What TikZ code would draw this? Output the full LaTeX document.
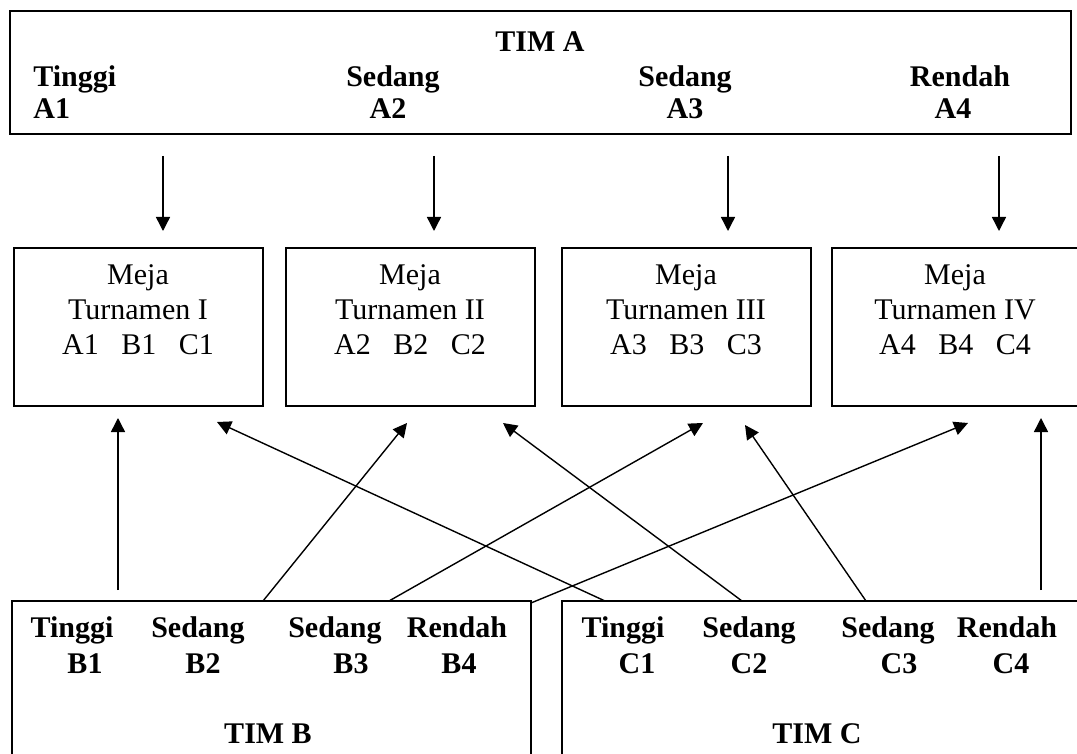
\documentclass[tikz,border=0pt]{standalone}
\usepackage{fontspec}
\setmainfont{Liberation Serif}
\usetikzlibrary{arrows.meta,fit}

\begin{document}
\begin{tikzpicture}[x=0.5pt,y=-0.5pt,
  box/.style={rectangle,draw,line width=1pt,inner sep=0pt},
  lbl/.style={font=\fontsize{15}{17}\selectfont\bfseries,inner sep=0pt,anchor=base},
  mj/.style={font=\fontsize{15}{17.5}\selectfont,align=center,inner sep=0pt,anchor=base},
  a/.style={-{Triangle[length=7pt,width=7pt]},line width=0.7pt}]

\useasboundingbox (0,0) rectangle (1077,754);
\clip (0,0) rectangle (1077,754);

% team A on top
\node[box,fit={(10,11) (1071,134)}] (timA) {};
\node[lbl] (nA) at (540,52) {TIM A};
\node[lbl,anchor=base west] (kA1) at (33,87) {Tinggi};
\node[lbl,anchor=base west] (a1) at (33,119) {A1};
\node[lbl] (kA2) at (393,87) {Sedang};
\node[lbl] (a2) at (388,119) {A2};
\node[lbl] (kA3) at (685,87) {Sedang};
\node[lbl] (a3) at (685,119) {A3};
\node[lbl] (kA4) at (960,87) {Rendah};
\node[lbl] (a4) at (953,119) {A4};

% tournament tables
\node[box,fit={(14,248) (263,406)}] (m1) {};
\node[box,fit={(286,248) (535,406)}] (m2) {};
\node[box,fit={(562,248) (811,406)}] (m3) {};
\node[box,fit={(832,248) (1110,406)}] (m4) {};
\node[mj] (t1) at (138,355) {Meja\\Turnamen I\\A1\hspace{0.75em}B1\hspace{0.75em}C1};
\node[mj] (t2) at (410,355) {Meja\\Turnamen II\\A2\hspace{0.75em}B2\hspace{0.75em}C2};
\node[mj] (t3) at (686,355) {Meja\\Turnamen III\\A3\hspace{0.75em}B3\hspace{0.75em}C3};
\node[mj] (t4) at (955,355) {Meja\\Turnamen IV\\A4\hspace{0.75em}B4\hspace{0.75em}C4};

% arrows from team A down to the tables
\coordinate (d1) at (163,156); \coordinate (d2) at (434,156);
\coordinate (d3) at (728,156); \coordinate (d4) at (999,156);
\draw[a,shorten >=8pt] (d1) -- (d1 |- m1.north);
\draw[a,shorten >=8pt] (d2) -- (d2 |- m2.north);
\draw[a,shorten >=8pt] (d3) -- (d3 |- m3.north);
\draw[a,shorten >=8pt] (d4) -- (d4 |- m4.north);

% teams B and C at the bottom
\node[box,fit={(12,601) (531,790)}] (timB) {};
\node[box,fit={(562,601) (1110,790)}] (timC) {};
\node[lbl] (kB1) at (72,637) {Tinggi};
\node[lbl] (b1) at (85,673) {B1};
\node[lbl] (kB2) at (198,637) {Sedang};
\node[lbl] (b2) at (203,673) {B2};
\node[lbl] (kB3) at (335,637) {Sedang};
\node[lbl] (b3) at (351,673) {B3};
\node[lbl] (kB4) at (457,637) {Rendah};
\node[lbl] (b4) at (459,673) {B4};
\node[lbl] (nB) at (268,743) {TIM B};
\node[lbl] (kC1) at (623,637) {Tinggi};
\node[lbl] (c1) at (637,673) {C1};
\node[lbl] (kC2) at (749,637) {Sedang};
\node[lbl] (c2) at (749,673) {C2};
\node[lbl] (kC3) at (888,637) {Sedang};
\node[lbl] (c3) at (899,673) {C3};
\node[lbl] (kC4) at (1007,637) {Rendah};
\node[lbl] (c4) at (1011,673) {C4};
\node[lbl] (nC) at (817,743) {TIM C};

% arrows from teams B and C up to the tables
\coordinate (ub1) at (118,590); \coordinate (hb1) at (118,418);
\coordinate (ub2) at (263,601); \coordinate (hb2) at (407,423);
\coordinate (ub3) at (389,601); \coordinate (hb3) at (703,423);
\coordinate (ub4) at (531,603); \coordinate (hb4) at (968,423);
\coordinate (uc1) at (605,601); \coordinate (hc1) at (217,422);
\coordinate (uc2) at (742,601); \coordinate (hc2) at (503,423);
\coordinate (uc3) at (866,601); \coordinate (hc3) at (745,425);
\coordinate (uc4) at (1041,590); \coordinate (hc4) at (1041,418);
\draw[a] (ub1) -- (hb1); \draw[a] (uc1) -- (hc1);
\draw[a] (ub2) -- (hb2); \draw[a] (uc2) -- (hc2);
\draw[a] (ub3) -- (hb3); \draw[a] (uc3) -- (hc3);
\draw[a] (ub4) -- (hb4); \draw[a] (uc4) -- (hc4);
\end{tikzpicture}
\end{document}
